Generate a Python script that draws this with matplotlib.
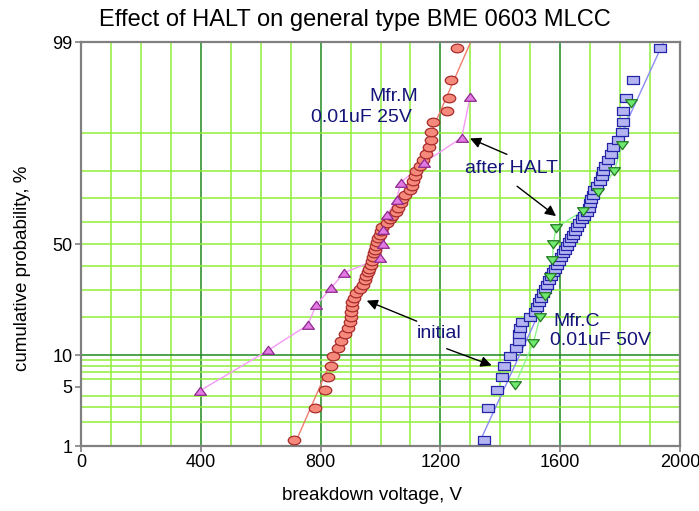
import math
import numpy as np
import matplotlib
matplotlib.use("Agg")
import matplotlib.pyplot as plt
from matplotlib.path import Path
from matplotlib.transforms import Affine2D

# ---------------- data ----------------
# breakdown voltages (V), sorted, Mfr.M 0.01uF 25V, initial
m_initial = [711, 781, 815, 826, 835, 842, 859, 868, 883, 891,
             898, 900, 902, 904, 906, 910, 918, 930, 942, 947,
             953, 958, 963, 967, 972, 976, 979, 982, 985, 988,
             993, 997, 1002, 1005, 1022, 1033, 1040, 1052, 1060, 1067,
             1073, 1083, 1097, 1105, 1109, 1115, 1120, 1132, 1142, 1152,
             1163, 1167, 1169, 1174, 1221, 1230, 1235, 1254]
# Mfr.M after HALT
m_halt = [397, 625, 757, 785, 834, 878, 998, 1007, 1010, 1021,
          1054, 1067, 1144, 1271, 1299]
# Mfr.C 0.01uF 50V, initial
c_initial = [1347, 1360, 1388, 1405, 1413, 1432, 1452, 1462, 1464, 1466,
             1471, 1499, 1516, 1524, 1530, 1536, 1543, 1549, 1556, 1563,
             1569, 1576, 1583, 1589, 1596, 1603, 1609, 1616, 1623, 1629,
             1636, 1643, 1649, 1656, 1664, 1672, 1679, 1689, 1696, 1700,
             1703, 1708, 1713, 1723, 1733, 1740, 1744, 1750, 1760, 1770,
             1777, 1793, 1805, 1811, 1811, 1819, 1844, 1933]
# Mfr.C after HALT
c_halt = [1449, 1510, 1533, 1550, 1566, 1574, 1577, 1586, 1677, 1727,
          1781, 1805, 1836]

# normal fits of the initial populations: (mean, sigma) in V
m_fit = (1006, 126.8)
c_fit = (1635, 133.3)

x_ticks = [0, 400, 800, 1200, 1600, 2000]
y_ticks = [1, 5, 10, 50, 99]
y_grid = [2, 3, 4, 6, 7, 8, 9, 20, 30, 40, 50, 60, 70, 80, 90]


# ---------------- normal probability scale ----------------
_A = [-3.969683028665376e+01, 2.209460984245205e+02, -2.759285104469687e+02,
      1.383577518672690e+02, -3.066479806614716e+01, 2.506628277459239e+00]
_B = [-5.447609879822406e+01, 1.615858368580409e+02, -1.556989798598866e+02,
      6.680131188771972e+01, -1.328068155288572e+01]
_C = [-7.784894002430293e-03, -3.223964580411365e-01, -2.400758277161838e+00,
      -2.549732539343734e+00, 4.374664141464968e+00, 2.938163982698783e+00]
_D = [7.784695709041462e-03, 3.224671290700398e-01, 2.445134137142996e+00,
      3.754408661907416e+00]


def _tail(q):
    num = ((((_C[0] * q + _C[1]) * q + _C[2]) * q + _C[3]) * q + _C[4]) * q + _C[5]
    den = (((_D[0] * q + _D[1]) * q + _D[2]) * q + _D[3]) * q + 1
    return num / den


def pct_to_z(pct):
    p = np.clip(np.asarray(pct, dtype=float) / 100.0, 1e-9, 1 - 1e-9)
    out = np.empty_like(p)
    lo = p < 0.02425
    hi = p > 1 - 0.02425
    mid = ~(lo | hi)
    q = p[mid] - 0.5
    r = q * q
    num = (((((_A[0] * r + _A[1]) * r + _A[2]) * r + _A[3]) * r + _A[4]) * r + _A[5]) * q
    den = ((((_B[0] * r + _B[1]) * r + _B[2]) * r + _B[3]) * r + _B[4]) * r + 1
    out[mid] = num / den
    out[lo] = _tail(np.sqrt(-2 * np.log(p[lo])))
    out[hi] = -_tail(np.sqrt(-2 * np.log(1 - p[hi])))
    return out


_erf = np.frompyfunc(math.erf, 1, 1)


def z_to_pct(z):
    z = np.asarray(z, dtype=float)
    return 50.0 * (1.0 + _erf(z / math.sqrt(2.0)).astype(float))


def median_rank(values):
    n = len(values)
    i = np.arange(1, n + 1)
    return (i - 0.3) / (n + 0.4) * 100.0


# ---------------- figure ----------------
plt.rcParams["font.family"] = ["Liberation Sans", "DejaVu Sans"]

W, H = 699, 511
fig = plt.figure(figsize=(W / 100, H / 100), dpi=100)
ax = fig.add_axes([81 / W, 1 - 446 / H, 599 / W, 404 / H])
ax.set_yscale("function", functions=(pct_to_z, z_to_pct))
ax.set_xlim(0, 2000)
ax.set_ylim(1, 99)

light = "#8fef3a"
dark = "#1f8a1f"
for xv in range(100, 2000, 100):
    ax.axvline(xv, color=dark if xv % 400 == 0 else light, lw=1.1, zorder=0.5)
for yv in y_grid:
    ax.axhline(yv, color=light, lw=1.1, zorder=0.5)
ax.axhline(10, color=dark, lw=1.1, zorder=0.6)

ellipse = Path.unit_circle().transformed(Affine2D().scale(1.45, 1.0))
rect = Path.unit_rectangle().transformed(Affine2D().translate(-0.5, -0.5).scale(1.4, 1.0))
tri_up = Path([(-0.7, -0.45), (0.7, -0.45), (0, 0.5), (-0.7, -0.45)],
              [Path.MOVETO, Path.LINETO, Path.LINETO, Path.CLOSEPOLY])
tri_dn = Path([(-0.7, 0.45), (0.7, 0.45), (0, -0.5), (-0.7, 0.45)],
              [Path.MOVETO, Path.LINETO, Path.LINETO, Path.CLOSEPOLY])

z99 = float(pct_to_z([99])[0])
# fitted lines
for (mu, sd), col in ((m_fit, "#f27c6c"), (c_fit, "#8c8cf5")):
    ax.plot([mu - z99 * sd, mu + z99 * sd], [1, 99], color=col, lw=1.0, zorder=2)

ax.plot(m_halt, median_rank(m_halt), color="#f59af5", lw=1.0, zorder=2)
ax.plot(c_halt, median_rank(c_halt), color="#8cf58c", lw=1.0, zorder=2)

ax.plot(m_initial, median_rank(m_initial), ls="none", marker=ellipse, ms=9,
        mfc="#f58a7c", mec="#a82a2a", mew=0.9, zorder=3, clip_on=False)
ax.plot(c_initial, median_rank(c_initial), ls="none", marker=rect, ms=8.8,
        mfc="#b4b4f2", mec="#2424a8", mew=0.9, zorder=3, clip_on=False)
ax.plot(m_halt, median_rank(m_halt), ls="none", marker=tri_up, ms=8.5,
        mfc="#e47ae4", mec="#8e2a8e", mew=0.9, zorder=4)
ax.plot(c_halt, median_rank(c_halt), ls="none", marker=tri_dn, ms=8.5,
        mfc="#6ee86e", mec="#237a23", mew=0.9, zorder=4)

# frame and ticks
for sp in ax.spines.values():
    sp.set_color("#808080")
    sp.set_linewidth(1.6)
ax.set_xticks(x_ticks)
ax.set_xticklabels([str(v) for v in x_ticks])
ax.set_yticks(y_ticks)
ax.set_yticklabels([str(v) for v in y_ticks])
ax.yaxis.set_minor_locator(matplotlib.ticker.NullLocator())
ax.tick_params(axis="both", direction="out", length=4, width=1.2, color="#808080",
               labelsize=13, pad=2)

fig.text(355 / W, 1 - 20 / H, "Effect of HALT on general type BME 0603 MLCC",
         ha="center", va="center", fontsize=17)
fig.text(372 / W, 1 - 496 / H, "breakdown voltage, V",
         ha="center", va="center", fontsize=13.5)
fig.text(23 / W, 1 - 268 / H, "cumulative probability, %",
         ha="center", va="center", rotation=90, fontsize=13.5)

# annotations
navy = "#14147a"
ax.text(1125, 95.5, "Mfr.M", ha="right", va="center", fontsize=14, color=navy)
ax.text(1105, 92.8, "0.01uF 25V", ha="right", va="center", fontsize=14, color=navy)
ax.text(1439, 80.8, "after HALT", ha="center", va="center", fontsize=14, color=navy)
ax.text(1195, 15.1, "initial", ha="center", va="center", fontsize=14, color=navy)
ax.text(1576, 18.6, "Mfr.C", ha="left", va="center", fontsize=14, color=navy)
ax.text(1566, 13.3, "0.01uF 50V", ha="left", va="center", fontsize=14, color=navy)

arrow = dict(arrowstyle="-|>", color="black", lw=1.0, mutation_scale=16,
             shrinkA=0, shrinkB=0)
ax.annotate("", xy=(1299, 88.8), xytext=(1422, 84.9), arrowprops=arrow)
ax.annotate("", xy=(1586, 62.6), xytext=(1456, 74.7), arrowprops=arrow)
ax.annotate("", xy=(954, 25.7), xytext=(1121, 18.7), arrowprops=arrow)
ax.annotate("", xy=(1371, 8.1), xytext=(1221, 11.4), arrowprops=arrow)

fig.savefig("out.png", dpi=100)
